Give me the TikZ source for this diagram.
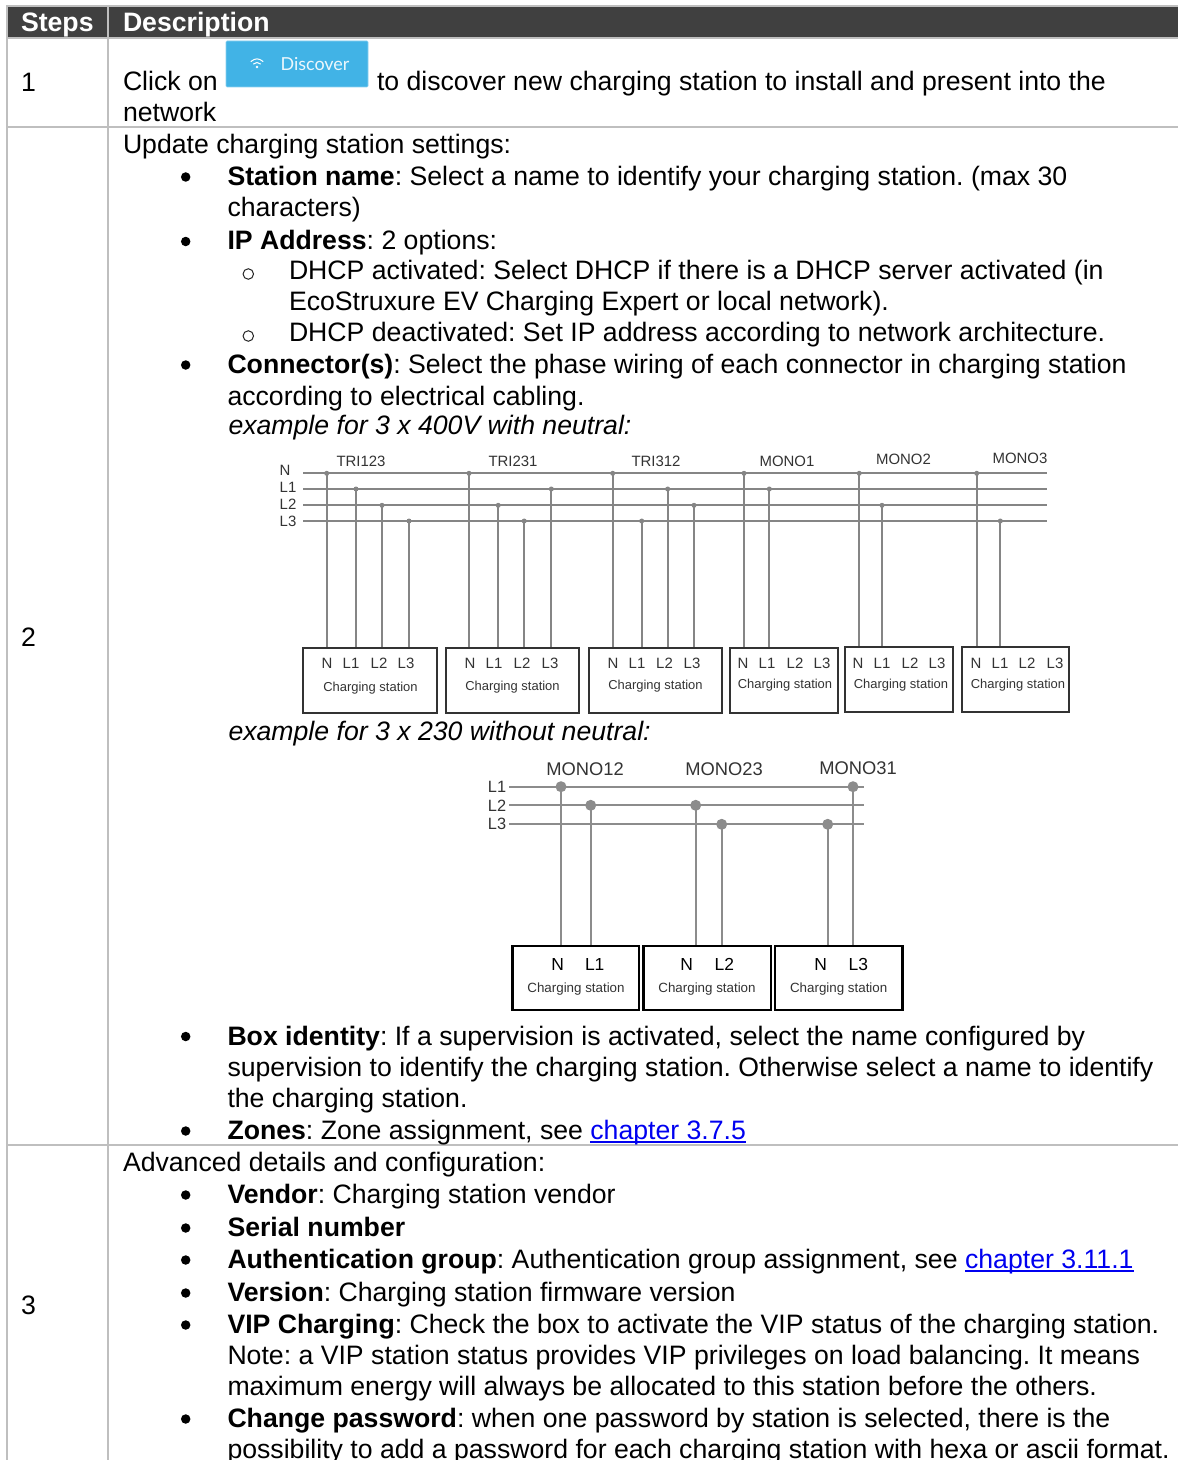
\documentclass[tikz,border=0pt]{standalone}
\usepackage{fontspec}
\setmainfont{Liberation Sans}
\newfontfamily\lato{Lato}
\definecolor{rule}{HTML}{BFBFBF}
\definecolor{head}{HTML}{404040}
\definecolor{btn}{HTML}{41B3E6}
\definecolor{wirec}{HTML}{858585}
\definecolor{wired}{HTML}{8C8C8C}
\definecolor{dtext}{HTML}{333333}
\definecolor{linkc}{HTML}{0000F0}
\tikzset{
  x=1bp,y=-1bp,
  txt/.style={anchor=base west,inner sep=0pt,outer sep=0pt,font=\fontsize{26.75}{31}\selectfont\frenchspacing,text=black},
  hdr/.style={txt,font=\fontsize{26.75}{31}\selectfont\bfseries,text=white},
  bull/.style={circle,fill=black,inner sep=0pt,minimum size=9.5bp},
  sbull/.style={circle,draw=black!85,line width=1bp,inner sep=0pt,minimum size=10.5bp},
  gridline/.style={draw=rule,line width=2bp},
  busA/.style={draw=wirec,line width=1.9bp},
  busB/.style={draw=wired,line width=2.2bp},
  dotA/.style={circle,fill=wirec,inner sep=0pt,minimum size=5bp},
  dotB/.style={circle,fill=wired,inner sep=0pt,minimum size=11bp},
  boxA/.style={draw=black!80,line width=1.7bp,inner sep=0pt},
  boxB/.style={draw=black,line width=2.6bp,inner sep=0pt},
  lblA/.style={inner sep=0pt,font=\fontsize{15}{15}\selectfont,text=dtext},
  lblS/.style={inner sep=0pt,font=\fontsize{13}{15}\selectfont,text=dtext},
  lblB/.style={inner sep=0pt,font=\fontsize{17.5}{19}\selectfont,text=black},
  lblM/.style={inner sep=0pt,font=\fontsize{16.4}{17}\selectfont,text=dtext},
  lblT/.style={inner sep=0pt,font=\fontsize{18.4}{19}\selectfont,text=dtext},
  lblC/.style={inner sep=0pt,font=\fontsize{13.4}{15}\selectfont,text=dtext},
}
\newcommand{\tl}[4]{\node[txt] (#1) at (#2,#3) {#4};}
\newcommand{\bl}[2]{\node[bull] (#1) at (185.7,#2) {};}
\newcommand{\subb}[2]{\node[sbull] (#1) at (248.3,#2) {};}
\newcommand{\lnk}[1]{\textcolor{linkc}{\setbox0\hbox{#1}\rlap{\box0}\setbox0\hbox{#1}\rule[-3.9bp]{\wd0}{1.8bp}}}
\newcommand{\stn}[6]{\pgfmathsetmacro\stw{#5-#3}\pgfmathsetmacro\sth{#6-#4}%
  \node[#2,minimum width=\stw bp,minimum height=\sth bp] (#1) at ({(#3+#5)/2},{(#4+#6)/2}) {};}
\newcommand{\tapA}[4]{\node[dotA] (#1) at (#2,#3) {};\draw[busA] (#1.center) -- (#1.center |- #4.north);}
\newcommand{\tapB}[4]{\node[dotB] (#1) at (#2,#3) {};\draw[busB] (#1.center) -- (#1.center |- #4.north);}
\begin{document}
\begin{tikzpicture}
\useasboundingbox (0,0) rectangle (1178,1460);
\clip (0,0) rectangle (1178,1460);
\fill[white] (0,0) rectangle (1178,1460);
% table
\fill[head] (7,6) rectangle (1178,37);
\draw[gridline] (6,6) -- (1178,6);
\draw[gridline] (7,5) -- (7,1460);
\draw[gridline] (108,5) -- (108,1460);
\draw[gridline] (6,38) -- (1178,38);
\draw[gridline] (6,127) -- (1178,127);
\draw[gridline] (6,1145) -- (1178,1145);
\node[hdr] (hSteps) at (21,32) {Steps};
\node[hdr] (hDesc) at (123,32) {Description};
% row numbers
\tl{n1}{21}{92}{1}
\tl{n2}{21}{646}{2}
\tl{n3}{21}{1314}{3}
% row 1
\tl{r1a}{123}{91}{Click on}
\fill[white] (224,39) rectangle (371,88);
\draw[btn!60,line width=0.6bp,fill=btn,rounded corners=1bp] (226,41) rectangle (368,87);
\node[inner sep=0pt,font=\fontsize{18}{18}\lato,text=white!90!btn] (disc) at (315,64) {Discover};
\draw[white,line width=1bp,line cap=round] (251,61.5) .. controls (255,58) and (259,58) .. (263,61.5);
\draw[white,line width=1bp,line cap=round] (253.5,64) .. controls (256,62) and (258,62) .. (260.5,64);
\fill[white] (257,67) circle (1.3);
\tl{r1b}{377}{91}{to discover new charging station to install and present into the}
\tl{r1c}{123}{122}{network}
% row 2
\tl{a1}{123}{154}{Update charging station settings:}
\bl{ba}{177}\tl{a2}{227.5}{186}{\textbf{Station name}: Select a name to identify your charging station. (max 30}
\tl{a3}{227.5}{217}{characters)}
\bl{bb}{241.5}\tl{a4}{227.5}{249}{\textbf{IP Address}: 2 options:}
\subb{sa}{274}\tl{a5}{289}{279}{DHCP activated: Select DHCP if there is a DHCP server activated (in}
\tl{a6}{289}{310}{EcoStruxure EV Charging Expert or local network).}
\subb{sbb}{336}\tl{a7}{289}{341}{DHCP deactivated: Set IP address according to network architecture.}
\bl{bc}{365}\tl{a8}{227.5}{373}{\textbf{Connector(s)}: Select the phase wiring of each connector in charging station}
\tl{a9}{227.5}{405}{according to electrical cabling.}
\tl{a10}{228.5}{434}{\textit{example for 3 x 400V with neutral:}}
\tl{a11}{228.5}{740}{\textit{example for 3 x 230 without neutral:}}
\bl{bd}{1036.5}\tl{a12}{227.5}{1045}{\textbf{Box identity}: If a supervision is activated, select the name configured by}
\tl{a13}{227.5}{1076}{supervision to identify the charging station. Otherwise select a name to identify}
\tl{a14}{227.5}{1107}{the charging station.}
\bl{be}{1131}\tl{a15}{227.5}{1139}{\textbf{Zones}: Zone assignment, see \lnk{chapter 3.7.5}}
% row 3
\tl{c1}{123}{1171}{Advanced details and configuration:}
\bl{ca}{1195}\tl{c2}{227.5}{1203}{\textbf{Vendor}: Charging station vendor}
\bl{cb}{1228}\tl{c3}{227.5}{1236}{\textbf{Serial number}}
\bl{cc}{1260}\tl{c4}{227.5}{1268}{\textbf{Authentication group}: Authentication group assignment, see \lnk{chapter 3.11.1}}
\bl{cd}{1293}\tl{c5}{227.5}{1301}{\textbf{Version}: Charging station firmware version}
\bl{ce}{1325}\tl{c6}{227.5}{1333}{\textbf{VIP Charging}: Check the box to activate the VIP status of the charging station.}
\tl{c7}{227.5}{1364}{Note: a VIP station status provides VIP privileges on load balancing. It means}
\tl{c8}{227.5}{1395}{maximum energy will always be allocated to this station before the others.}
\bl{cf}{1419}\tl{c9}{227.5}{1427}{\textbf{Change password}: when one password by station is selected, there is the}
\tl{c10}{227.5}{1458.5}{possibility to add a password for each charging station with hexa or ascii format.}
% diagram 1 boxes
\stn{A1}{boxA}{303}{648}{436.7}{713}
\stn{A2}{boxA}{446}{648}{578.7}{713}
\stn{A3}{boxA}{589.3}{648}{722}{713}
\stn{A4}{boxA}{730.3}{648}{837.7}{713}
\stn{A5}{boxA}{845.3}{646.7}{953}{711.7}
\stn{A6}{boxA}{962.3}{646.7}{1069.3}{711.7}
% diagram 1 buses
\coordinate (nl) at (303,473.3);\coordinate (nr) at (1047,473.3);
\coordinate (al) at (303,489);\coordinate (ar) at (1047,489);
\coordinate (bl) at (303,505.3);\coordinate (br) at (1047,505.3);
\coordinate (cl) at (303,521);\coordinate (cr) at (1047,521);
\draw[busA] (nl) -- (nr);\draw[busA] (al) -- (ar);\draw[busA] (bl) -- (br);\draw[busA] (cl) -- (cr);
\tapA{p1}{326.7}{473.3}{A1}\tapA{p2}{356}{489}{A1}\tapA{p3}{382}{505.3}{A1}\tapA{p4}{409}{521}{A1}
\tapA{q1}{469}{473.3}{A2}\tapA{q2}{498.2}{505.3}{A2}\tapA{q3}{524.2}{521}{A2}\tapA{q4}{551.3}{489}{A2}
\tapA{r1}{612.7}{473.3}{A3}\tapA{r2}{641.7}{521}{A3}\tapA{r3}{667.7}{489}{A3}\tapA{r4}{694}{505.3}{A3}
\tapA{s1}{744}{473.3}{A4}\tapA{s2}{769.3}{489}{A4}
\tapA{u1}{859.2}{473.3}{A5}\tapA{u2}{882}{505.3}{A5}
\tapA{v1}{976.7}{473.3}{A6}\tapA{v2}{1000.3}{521}{A6}
% diagram 1 labels
\node[lblA] (ln) at (285,470) {N};
\node[lblA] (la) at (288,487) {L1};
\node[lblA] (lb) at (288,504) {L2};
\node[lblA] (lc) at (288,521) {L3};
\node[lblA] (ta) at (361,461) {TRI123};
\node[lblA] (tb) at (513,461) {TRI231};
\node[lblA] (tc) at (656,461) {TRI312};
\node[lblA] (td) at (787,461) {MONO1};
\node[lblA] (te) at (903.5,459) {MONO2};
\node[lblA] (tf) at (1020,458) {MONO3};
\foreach \id/\xa/\xb/\xc/\xd/\xs/\ys in {1/327/351/379/406/370.5/688,2/470/494/522/550/512.5/687,3/613/637/664.5/692/655.5/686,4/743/767/795/822/785/685,5/858/882/910/937/901/685,6/976/1000/1027/1055/1018/685}{
  \node[lblA] (x\id a) at (\xa,663) {N};
  \node[lblA] (x\id b) at (\xb,663) {L1};
  \node[lblA] (x\id c) at (\xc,663) {L2};
  \node[lblA] (x\id d) at (\xd,663) {L3};
  \node[lblS] (x\id s) at (\xs,\ys) {Charging station};
}
% diagram 2
\stn{B1}{boxB}{512.3}{946}{639}{1010}
\stn{B2}{boxB}{643.7}{946}{771}{1010}
\stn{B3}{boxB}{775}{946}{902.7}{1010}
\coordinate (ml) at (509.3,786.7);\coordinate (mr) at (864,786.7);
\coordinate (ol) at (509.3,805.3);\coordinate (or) at (864,805.3);
\coordinate (wl) at (509.3,824.3);\coordinate (wr) at (864,824.3);
\draw[busB] (ml) -- (mr);\draw[busB] (ol) -- (or);\draw[busB] (wl) -- (wr);
\tapB{g1}{561}{786.7}{B1}\tapB{g2}{590.7}{805.3}{B1}
\tapB{h1}{695.7}{805.3}{B2}\tapB{h2}{721.7}{824.3}{B2}
\tapB{k1}{827.7}{824.3}{B3}\tapB{k2}{853}{786.7}{B3}
\node[lblM] (ma) at (497,787) {L1};
\node[lblM] (mb) at (497,805.5) {L2};
\node[lblM] (mc) at (497,824) {L3};
\node[lblT] (ua) at (585,768.7) {MONO12};
\node[lblT] (ub) at (724,768.7) {MONO23};
\node[lblT] (uc) at (858,767.7) {MONO31};
\node[lblB] (y1a) at (557.7,964.5) {N};
\node[lblB] (y1b) at (594.7,964.5) {L1};
\node[lblC] (y1s) at (576,989.3) {Charging station};
\node[lblB] (y2a) at (686.7,964.5) {N};
\node[lblB] (y2b) at (724.3,964.5) {L2};
\node[lblC] (y2s) at (707,989.3) {Charging station};
\node[lblB] (y3a) at (820.7,964.5) {N};
\node[lblB] (y3b) at (858.3,964.5) {L3};
\node[lblC] (y3s) at (838.7,989.3) {Charging station};
\end{tikzpicture}
\end{document}
